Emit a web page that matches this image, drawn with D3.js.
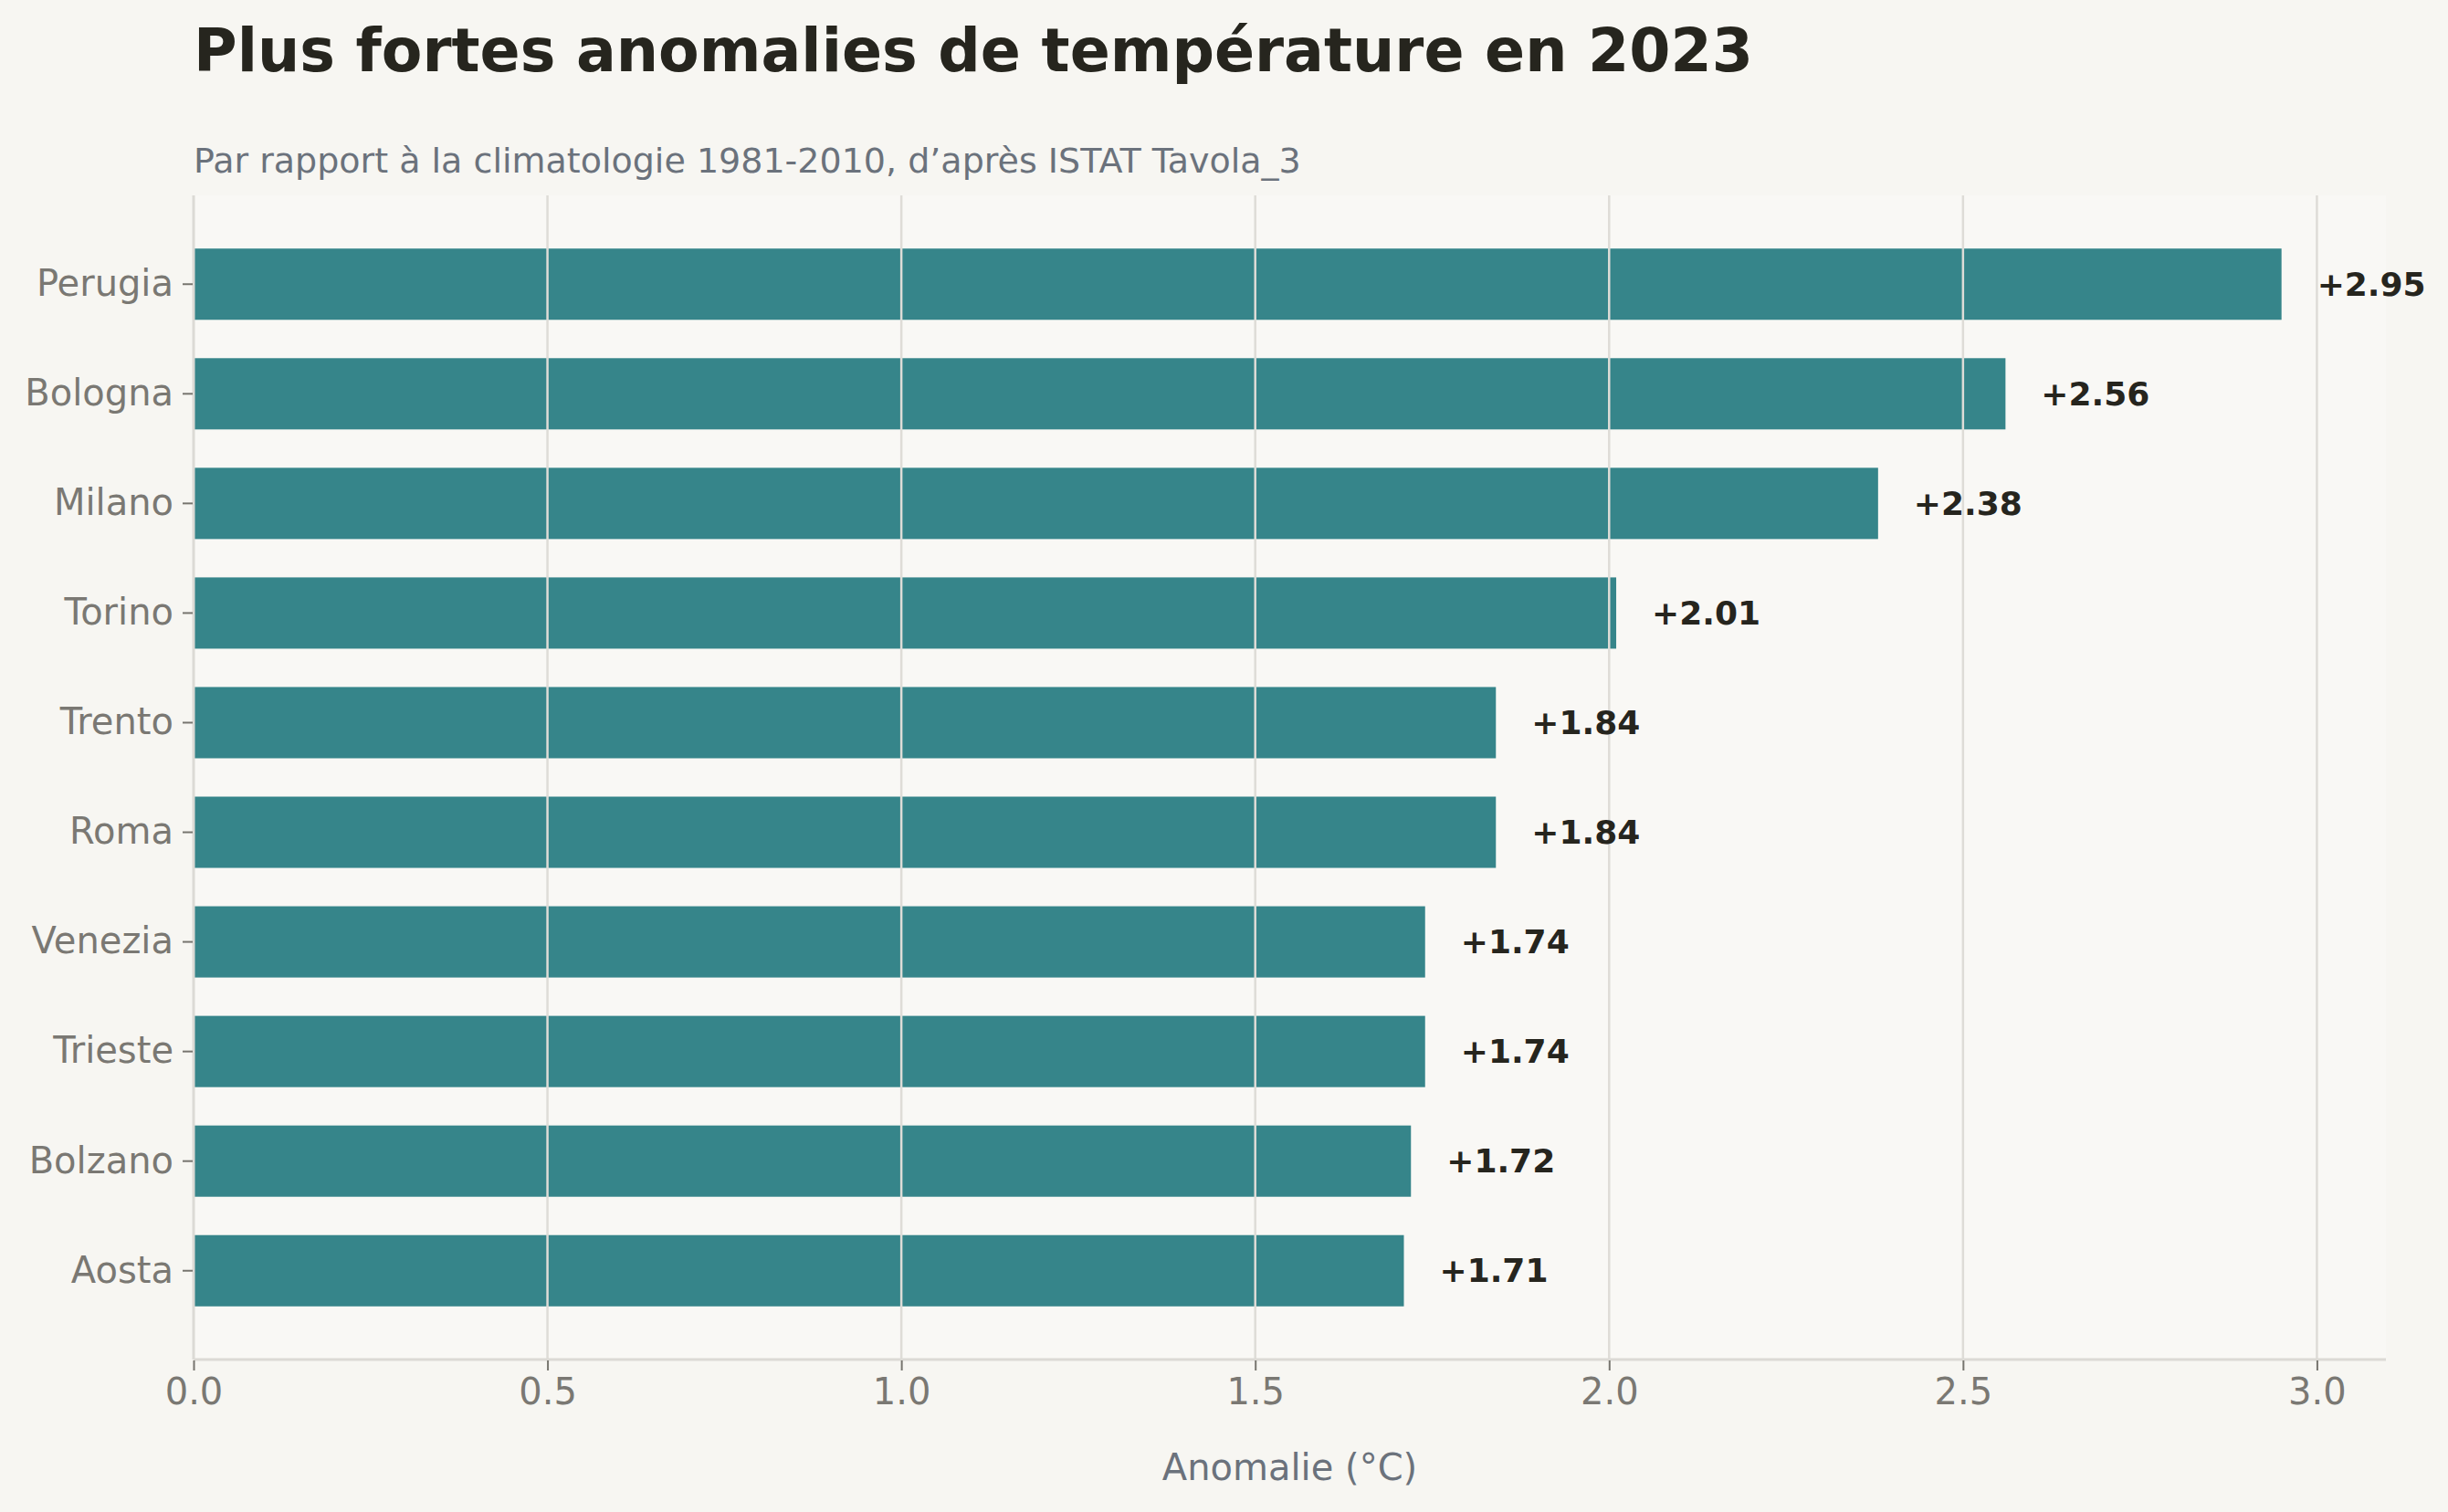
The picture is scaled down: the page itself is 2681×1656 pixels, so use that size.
<!DOCTYPE html>
<html>
<head>
<meta charset="utf-8">
<script src="https://cdn.jsdelivr.net/npm/d3@7"></script>
<style>
  body { margin: 0; background: #f7f6f2; }
  svg { display: block; font-family: "DejaVu Sans", sans-serif; }
</style>
</head>
<body>
<script>
// data
const cities = ["Perugia", "Bologna", "Milano", "Torino", "Trento", "Roma", "Venezia", "Trieste", "Bolzano", "Aosta"];
const anomalies = [2.95, 2.56, 2.38, 2.01, 1.84, 1.84, 1.74, 1.74, 1.72, 1.71];
const xTicks = [0, 0.5, 1.0, 1.5, 2.0, 2.5, 3.0];

const W = 2681, H = 1656;
const mLeft = 212, mRight = 2613, mTop = 214, mBottom = 1489;

var svg = d3.select("body").append("svg")
    .attr("width", W)
    .attr("height", H);

svg.append("rect").attr("width", W).attr("height", H).attr("fill", "#f7f6f2");

// plot area is a touch lighter
svg.append("rect")
    .attr("x", mLeft).attr("y", mTop)
    .attr("width", mRight - mLeft).attr("height", mBottom - mTop)
    .attr("fill", "#f9f8f5");

const x = d3.scaleLinear()
    .domain([0, d3.max(anomalies) * 1.05])
    .range([mLeft, mRight]);

const y = d3.scaleBand()
    .domain(cities)
    .range([mTop, mBottom])
    .paddingInner(0.35)
    .paddingOuter(0.485);

// bars
svg.append("g").selectAll("rect")
    .data(cities)
    .enter().append("rect")
    .attr("x", x(0))
    .attr("y", d => y(d))
    .attr("width", (d, i) => x(anomalies[i]) - x(0))
    .attr("height", y.bandwidth())
    .attr("fill", "#36858a");

// vertical grid, drawn over bars
svg.append("g").selectAll("line")
    .data(xTicks.slice(1))
    .enter().append("line")
    .attr("x1", d => x(d)).attr("x2", d => x(d))
    .attr("y1", mTop).attr("y2", mBottom)
    .attr("stroke", "#dedcd7")
    .attr("stroke-width", 2.5);

// spines
svg.append("line")
    .attr("x1", mLeft).attr("x2", mLeft)
    .attr("y1", mTop).attr("y2", mBottom)
    .attr("stroke", "#dcdad5").attr("stroke-width", 3);
svg.append("line")
    .attr("x1", mLeft).attr("x2", mRight)
    .attr("y1", mBottom).attr("y2", mBottom)
    .attr("stroke", "#dcdad5").attr("stroke-width", 3);

// x axis
var xAxis = svg.append("g")
    .attr("transform", `translate(0, ${mBottom + 1})`)
    .call(d3.axisBottom(x).tickValues(xTicks).tickFormat(d3.format(".1f")).tickSize(11).tickPadding(9));
xAxis.select(".domain").remove();
xAxis.selectAll(".tick line").attr("stroke", "#77756f").attr("stroke-width", 2);
xAxis.selectAll(".tick text")
    .attr("fill", "#7a7873")
    .style("font-size", "40px")
    .style("font-family", "DejaVu Sans");

// y axis
var yAxis = svg.append("g")
    .attr("transform", `translate(${mLeft - 1}, 0)`)
    .call(d3.axisLeft(y).tickSize(11).tickPadding(10));
yAxis.select(".domain").remove();
yAxis.selectAll(".tick line").attr("stroke", "#77756f").attr("stroke-width", 2);
yAxis.selectAll(".tick text")
    .attr("fill", "#7a7873")
    .style("font-size", "40px")
    .style("font-family", "DejaVu Sans");

// value labels
svg.append("g").selectAll("text")
    .data(cities)
    .enter().append("text")
    .attr("x", (d, i) => x(anomalies[i]) + 39)
    .attr("y", d => y(d) + y.bandwidth() / 2)
    .attr("dy", "0.35em")
    .attr("fill", "#26251e")
    .style("font-size", "36px")
    .style("font-weight", "bold")
    .text((d, i) => "+" + anomalies[i].toFixed(2));

// title, subtitle, axis label
svg.append("text")
    .attr("x", mLeft).attr("y", 78)
    .attr("fill", "#26251e")
    .style("font-size", "65px")
    .style("font-weight", "bold")
    .text("Plus fortes anomalies de température en 2023");

svg.append("text")
    .attr("x", mLeft).attr("y", 189)
    .attr("fill", "#6b727c")
    .style("font-size", "38px")
    .text("Par rapport à la climatologie 1981-2010, d’après ISTAT Tavola_3");

svg.append("text")
    .attr("x", (mLeft + mRight) / 2).attr("y", 1621)
    .attr("text-anchor", "middle")
    .attr("fill", "#6b727c")
    .style("font-size", "40px")
    .text("Anomalie (°C)");
</script>
</body>
</html>
